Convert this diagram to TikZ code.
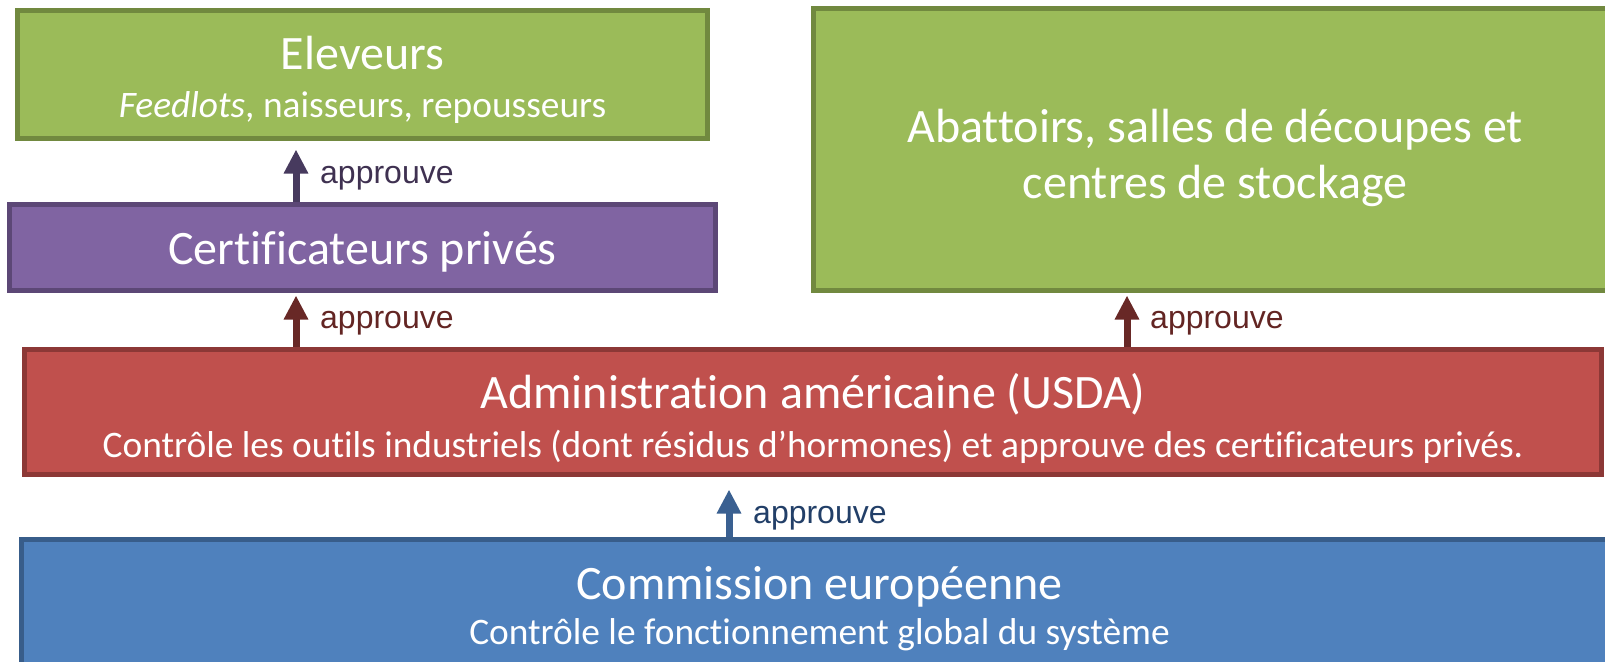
\documentclass[tikz,border=0pt]{standalone}
\usepackage{fontspec}
\setmainfont{Carlito}[Ligatures={NoCommon}]
\newfontfamily\arialf{Liberation Sans}
\usetikzlibrary{arrows.meta}
\definecolor{gfill}{HTML}{9BBB59}
\definecolor{gline}{HTML}{71893F}
\definecolor{pfill}{HTML}{8064A2}
\definecolor{pline}{HTML}{5C4776}
\definecolor{rfill}{HTML}{C0504D}
\definecolor{rline}{HTML}{8C3836}
\definecolor{bfill}{HTML}{4F81BD}
\definecolor{bline}{HTML}{385D8A}
\definecolor{parr}{HTML}{473A5E}
\definecolor{ptxt}{HTML}{3F3151}
\definecolor{rarr}{HTML}{682826}
\definecolor{rtxt}{HTML}{632523}
\definecolor{barr}{HTML}{3A6091}
\definecolor{btxt}{HTML}{223F68}
\tikzset{
  box/.style={draw, line width=5pt, rectangle, inner sep=0pt},
  ttl/.style={text=white, inner sep=0pt, anchor=base, font=\fontsize{48}{56}\selectfont},
  sub/.style={text=white, inner sep=0pt, anchor=base, font=\fontsize{37.4}{42}\selectfont},
  lbl/.style={inner sep=0pt, anchor=base west, font=\arialf\fontsize{32}{36}\selectfont},
  arr/.style={line width=7pt, -{Triangle[width=23pt,length=24pt]}},
}
\begin{document}
\begin{tikzpicture}[x=1pt,y=-1pt]
\useasboundingbox (0,0) rectangle (1605,661);
\clip (0,0) rectangle (1605,661);
% boxes
\node[box, fill=gfill, draw=gline, minimum width=690pt, minimum height=128pt] (elev) at (362.5,74.5) {};
\node[box, fill=pfill, draw=pline, minimum width=706pt, minimum height=86pt] (cert) at (362.5,247.5) {};
\node[box, fill=gfill, draw=gline, minimum width=803pt, minimum height=282pt] (abat) at (1215,149.5) {};
\node[box, fill=rfill, draw=rline, minimum width=1577pt, minimum height=125pt] (usda) at (813,412) {};
\node[box, fill=bfill, draw=bline, minimum width=1596pt, minimum height=180pt] (ce) at (819.5,629.5) {};
% texts
\node[ttl] (elevT) at (362.5,70) {Eleveurs};
\node[sub] (elevS) at (362.5,117) {\textit{Feedlots}, naisseurs, repousseurs};
\node[ttl] (certT) at (362.5,264) {Certificateurs privés};
\node[ttl] (abatT1) at (1215,142) {Abattoirs, salles de découpes et};
\node[ttl] (abatT2) at (1215,198) {centres de stockage};
\node[ttl] (usdaT) at (813,408) {Administration américaine (USDA)};
\node[sub] (usdaS) at (813,457) {Contrôle les outils industriels (dont résidus d’hormones) et approuve des certificateurs privés.};
\node[ttl] (ceT) at (819.5,599) {Commission européenne};
\node[sub] (ceS) at (819.5,644) {Contrôle le fonctionnement global du système};
% arrows
\draw[arr, parr, shorten >=8.5pt] ([xshift=-66.5pt]cert.north) -- ([xshift=-66.5pt]elev.south);
\draw[arr, rarr, shorten >=2.5pt] ([xshift=-517pt]usda.north) -- ([xshift=-517pt]usda.north |- cert.south);
\draw[arr, rarr, shorten >=2.5pt] ([xshift=-88pt]abat.south |- usda.north) -- ([xshift=-88pt]abat.south);
\draw[arr, barr, shorten >=12.5pt] ([xshift=-90.5pt]ce.north) -- ([xshift=-90.5pt]ce.north |- usda.south);
% labels
\node[lbl, text=ptxt] (l1) at (320,183) {approuve};
\node[lbl, text=rtxt] (l2) at (320,328) {approuve};
\node[lbl, text=rtxt] (l3) at (1150,328) {approuve};
\node[lbl, text=btxt] (l4) at (753,523) {approuve};
\end{tikzpicture}
\end{document}
